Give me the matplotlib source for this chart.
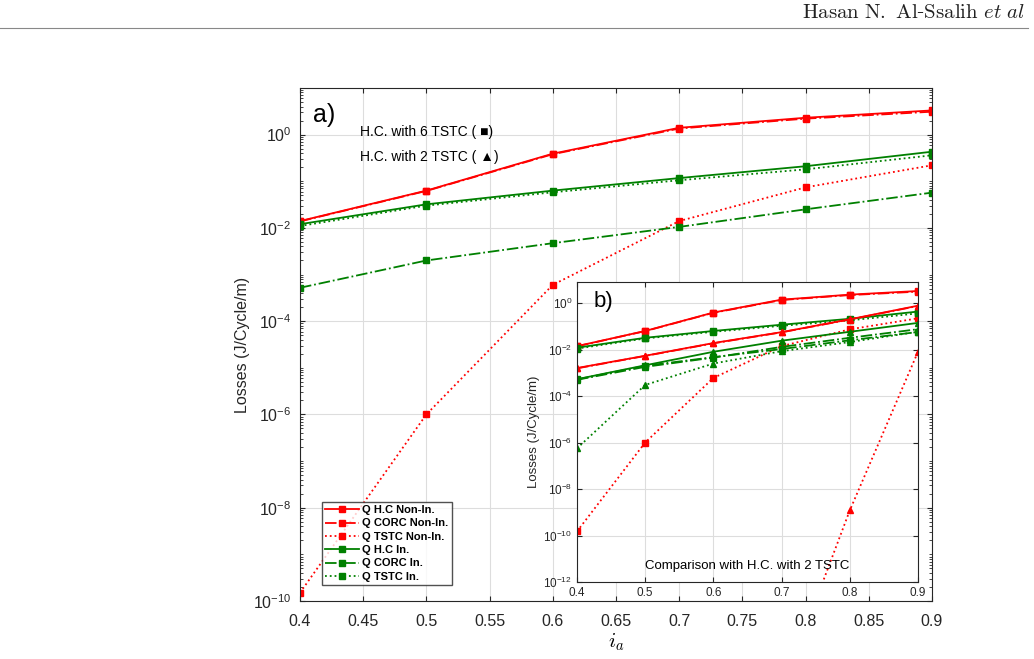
import matplotlib.pyplot as plt
import matplotlib.ticker as mticker
from matplotlib.lines import Line2D

plt.rcParams['font.family'] = ['Liberation Sans', 'DejaVu Sans']
plt.rcParams['mathtext.fontset'] = 'cm'

# ---- data ----
ia = [0.4, 0.5, 0.6, 0.7, 0.8, 0.9]

# H.C. with 6 TSTC (squares)
hc_non6 = [0.014, 0.063, 0.39, 1.4, 2.3, 3.3]
corc_non6 = [0.0138, 0.062, 0.38, 1.35, 2.2, 3.1]
tstc_non6 = [1.5e-10, 1.0e-6, 6.0e-4, 0.014, 0.074, 0.22]
hc_in6 = [0.012, 0.032, 0.063, 0.117, 0.21, 0.43]
corc_in6 = [5.2e-4, 2.0e-3, 4.7e-3, 0.0105, 0.025, 0.057]
tstc_in6 = [0.011, 0.030, 0.058, 0.105, 0.18, 0.36]

# H.C. with 2 TSTC (triangles)
hc_non2 = [1.6e-3, 5.4e-3, 0.019, 0.056, 0.2, 0.77]
corc_non2 = [1.55e-3, 5.3e-3, 0.0185, 0.055, 0.195, 0.75]
tstc_non2 = [1e-30, 1e-26, 1e-21, 2e-17, 1.2e-9, 8e-3]
hc_in2 = [5.3e-4, 2.1e-3, 8e-3, 0.024, 0.058, 0.14]
corc_in2 = [5.0e-4, 1.8e-3, 4.5e-3, 0.013, 0.032, 0.075]
tstc_in2 = [5.6e-7, 3.0e-4, 2.5e-3, 8.5e-3, 0.021, 0.058]

labels = ['Q H.C Non-In.', 'Q CORC Non-In.', 'Q TSTC Non-In.',
          'Q H.C In.', 'Q CORC In.', 'Q TSTC In.']
red = '#ff0000'
green = '#008000'

series6 = [hc_non6, corc_non6, tstc_non6, hc_in6, corc_in6, tstc_in6]
series2 = [hc_non2, corc_non2, tstc_non2, hc_in2, corc_in2, tstc_in2]
cols = [red, red, red, green, green, green]
styles = ['-', '-.', ':', '-', '-.', ':']

fig = plt.figure(figsize=(10.34, 6.59), dpi=100)

# header
fig.text(0.991, 0.966, r'$\mathrm{Hasan\ N.\ Al}$-$\mathrm{Ssalih}\ \mathit{et\ al}$',
         ha='right', va='bottom', fontsize=15, family='DejaVu Serif', color='#222222')
fig.add_artist(Line2D([0.0, 0.994], [0.957, 0.957], color='#888888', lw=0.8))

# ==========================================
# main axes
# ==========================================
ax = fig.add_axes([0.2901, 0.0880, 0.6112, 0.7785])
for y, c, ls, lab in zip(series6, cols, styles, labels):
    ax.plot(ia, y, color=c, linestyle=ls, marker='s', markersize=5, lw=1.3, label=lab)

ax.set_yscale('log')
ax.set_xlim(0.4, 0.9)
ax.set_ylim(1e-10, 1e1)
ax.set_xticks([0.4, 0.45, 0.5, 0.55, 0.6, 0.65, 0.7, 0.75, 0.8, 0.85, 0.9])
ax.set_xticklabels(['0.4', '0.45', '0.5', '0.55', '0.6', '0.65', '0.7', '0.75', '0.8', '0.85', '0.9'])
ax.set_yticks([1e-10, 1e-8, 1e-6, 1e-4, 1e-2, 1e0])
ax.yaxis.set_minor_locator(mticker.LogLocator(base=10, subs=range(1, 10), numticks=40))
ax.yaxis.set_minor_formatter(mticker.NullFormatter())
ax.tick_params(which='both', direction='in', top=True, right=True, labelsize=11.5, colors='#262626')
ax.tick_params(axis='x', pad=9)
ax.tick_params(axis='y', pad=6)
ax.tick_params(which='minor', length=2.5)
ax.grid(True, which='major', color='#dddddd', lw=0.8)
for s in ax.spines.values():
    s.set_color('#262626')
ax.set_xlabel('$i_a$', fontsize=15, labelpad=2)
ax.set_ylabel('Losses (J/Cycle/m)', fontsize=11.5, color='#262626', labelpad=2)

ax.text(0.02, 0.97, 'a)', transform=ax.transAxes, fontsize=18, va='top')
ax.text(0.095, 0.915, 'H.C. with 6 TSTC ( \u25a0)', transform=ax.transAxes, fontsize=10, va='center')
ax.text(0.095, 0.865, 'H.C. with 2 TSTC ( \u25b2)', transform=ax.transAxes, fontsize=10, va='center')

leg = ax.legend(loc='lower left', bbox_to_anchor=(0.035, 0.031), borderaxespad=0,
                prop={'weight': 'bold', 'size': 8}, frameon=True, fancybox=False,
                handlelength=3, handletextpad=0.3, labelspacing=0.3, borderpad=0.3)
leg.get_frame().set_edgecolor('#262626')
leg.get_frame().set_linewidth(1.0)

# ==========================================
# inset
# ==========================================
ins = fig.add_axes([0.558, 0.1168, 0.3298, 0.4552])
for y, c, ls in zip(series6, cols, styles):
    ins.plot(ia, y, color=c, linestyle=ls, marker='s', markersize=4.5, lw=1.3)
for y, c, ls in zip(series2, cols, styles):
    ins.plot(ia, y, color=c, linestyle=ls, marker='^', markersize=5, lw=1.3)

ins.set_yscale('log')
ins.set_xlim(0.4, 0.9)
ins.set_ylim(1e-12, 8)
ins.set_xticks([0.4, 0.5, 0.6, 0.7, 0.8, 0.9])
ins.set_xticklabels(['0.4', '0.5', '0.6', '0.7', '0.8', '0.9'])
ins.set_yticks([1e-12, 1e-10, 1e-8, 1e-6, 1e-4, 1e-2, 1e0])
ins.yaxis.set_minor_locator(mticker.NullLocator())
ins.tick_params(which='both', direction='in', top=True, right=True, labelsize=8.5, colors='#262626')
ins.grid(True, which='major', color='#dddddd', lw=0.8)
for s in ins.spines.values():
    s.set_color('#262626')
ins.set_ylabel('Losses (J/Cycle/m)', fontsize=9.5, color='#262626', labelpad=2)
ins.text(0.05, 0.97, 'b)', transform=ins.transAxes, fontsize=16, va='top')
ins.text(0.5, 0.055, 'Comparison with H.C. with 2 TSTC', transform=ins.transAxes,
         fontsize=9.5, ha='center', va='center')

plt.savefig('out.png', dpi=100)
